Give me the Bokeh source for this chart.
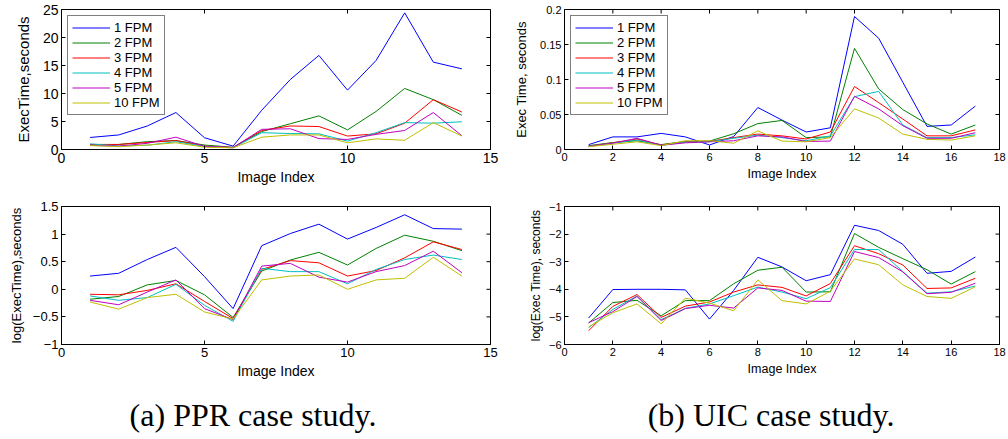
import math
from bokeh.plotting import figure
from bokeh.layouts import column, row
from bokeh.models import Range1d, FixedTicker, Div
from bokeh.embed import file_html
from bokeh.resources import INLINE

# ---------------- data ----------------
series_labels = ["1 FPM", "2 FPM", "3 FPM", "4 FPM", "5 FPM", "10 FPM"]
series_colors = ["#0000ff", "#008000", "#ff0000", "#00bfbf", "#bf00bf", "#bfbf00"]

ppr_x = list(range(1, 15))
uic_x = list(range(1, 18))

# PPR, execution time (seconds)
ppr_1 = [2.15, 2.6, 4.2, 6.6, 2.1, 0.6, 7.0, 12.5, 16.8, 10.6, 15.9, 24.4, 15.6, 14.4]
ppr_2 = [0.9, 0.9, 1.4, 1.6, 0.8, 0.4, 3.2, 4.6, 6.0, 3.5, 6.8, 10.9, 8.9, 6.1]
ppr_3 = [0.9, 0.9, 1.25, 1.6, 0.6, 0.35, 3.4, 4.2, 4.1, 2.4, 2.8, 4.7, 8.9, 6.7]
ppr_4 = [1.0, 0.65, 0.75, 1.4, 0.55, 0.3, 3.0, 2.85, 2.8, 1.5, 3.0, 4.8, 4.7, 4.95]
ppr_5 = [0.75, 0.6, 1.1, 2.2, 0.55, 0.35, 3.6, 3.7, 1.95, 1.8, 2.7, 3.4, 6.6, 2.45]
ppr_10 = [0.7, 0.5, 0.8, 1.2, 0.4, 0.3, 2.2, 2.6, 2.6, 1.2, 1.9, 1.65, 4.8, 2.4]

# PPR, log(execution time)
ppr_log_1 = [0.24, 0.29, 0.54, 0.76, 0.23, -0.35, 0.79, 1.01, 1.18, 0.91, 1.12, 1.35, 1.10, 1.09]
ppr_log_2 = [-0.18, -0.13, 0.08, 0.16, -0.10, -0.51, 0.33, 0.53, 0.67, 0.44, 0.74, 0.98, 0.87, 0.70]
ppr_log_3 = [-0.09, -0.10, -0.02, 0.10, -0.22, -0.53, 0.36, 0.52, 0.48, 0.24, 0.34, 0.57, 0.86, 0.72]
ppr_log_4 = [-0.12, -0.20, -0.15, 0.09, -0.29, -0.58, 0.38, 0.32, 0.32, 0.10, 0.36, 0.54, 0.62, 0.54]
ppr_log_5 = [-0.20, -0.28, -0.05, 0.17, -0.35, -0.55, 0.42, 0.47, 0.22, 0.13, 0.32, 0.43, 0.69, 0.30]
ppr_log_10 = [-0.23, -0.36, -0.15, -0.09, -0.41, -0.54, 0.17, 0.24, 0.26, 0.0, 0.17, 0.20, 0.58, 0.24]

# UIC, execution time (seconds)
uic_1 = [0.007, 0.018, 0.018, 0.023, 0.018, 0.0065, 0.0185, 0.060, 0.042, 0.025, 0.031, 0.190, 0.159, 0.096, 0.033, 0.035, 0.062]
uic_2 = [0.0055, 0.010, 0.0125, 0.007, 0.0115, 0.012, 0.0225, 0.037, 0.0415, 0.017, 0.018, 0.1445, 0.0865, 0.057, 0.0365, 0.022, 0.035]
uic_3 = [0.0045, 0.0095, 0.015, 0.0065, 0.011, 0.0115, 0.017, 0.022, 0.0195, 0.015, 0.025, 0.090, 0.067, 0.0435, 0.0195, 0.0195, 0.028]
uic_4 = [0.0045, 0.009, 0.0135, 0.006, 0.0105, 0.011, 0.016, 0.0205, 0.017, 0.0125, 0.0195, 0.0755, 0.083, 0.035, 0.017, 0.017, 0.021]
uic_5 = [0.0045, 0.009, 0.016, 0.006, 0.0095, 0.011, 0.0125, 0.0195, 0.018, 0.0115, 0.012, 0.076, 0.058, 0.034, 0.016, 0.016, 0.024]
uic_10 = [0.004, 0.0075, 0.011, 0.0055, 0.0125, 0.0125, 0.009, 0.0265, 0.012, 0.011, 0.017, 0.058, 0.045, 0.022, 0.0145, 0.0135, 0.0195]

# UIC, log(execution time)
uic_log_1 = [-5.04, -4.01, -4.00, -4.00, -4.02, -5.08, -4.04, -2.84, -3.19, -3.69, -3.47, -1.68, -1.87, -2.37, -3.42, -3.35, -2.83]
uic_log_2 = [-5.22, -4.48, -4.40, -4.96, -4.41, -4.41, -3.80, -3.31, -3.20, -4.10, -4.09, -1.98, -2.48, -2.89, -3.29, -3.81, -3.36]
uic_log_3 = [-5.50, -4.62, -4.19, -5.02, -4.61, -4.46, -4.10, -3.84, -3.93, -4.24, -3.79, -2.42, -2.71, -3.12, -3.97, -3.95, -3.60]
uic_log_4 = [-5.39, -4.73, -4.24, -5.10, -4.69, -4.53, -4.23, -3.92, -4.10, -4.34, -3.94, -2.56, -2.56, -3.36, -4.14, -4.09, -3.88]
uic_log_5 = [-5.21, -4.81, -4.26, -5.13, -4.70, -4.58, -4.68, -3.95, -4.04, -4.43, -4.44, -2.63, -2.85, -3.37, -4.16, -4.11, -3.78]
uic_log_10 = [-5.36, -4.85, -4.53, -5.25, -4.32, -4.50, -4.78, -3.66, -4.41, -4.53, -4.07, -2.90, -3.11, -3.84, -4.26, -4.33, -3.91]

# ticks and labels
ppr_xticks = [0, 5, 10, 15]
uic_xticks = [0, 2, 4, 6, 8, 10, 12, 14, 16, 18]
ppr_yticks = [0, 5, 10, 15, 20, 25]
ppr_log_yticks = [-1, -0.5, 0, 0.5, 1, 1.5]
ppr_log_ylabels = ["\u22121", "\u22120.5", "0", "0.5", "1", "1.5"]
uic_yticks = [0, 0.05, 0.1, 0.15, 0.2]
uic_ylabels = ["0", "0.05", "0.1", "0.15", "0.2"]
uic_log_yticks = [-6, -5, -4, -3, -2, -1]
uic_log_ylabels = ["\u22126", "\u22125", "\u22124", "\u22123", "\u22122", "\u22121"]

captions = ["(a) PPR case study.", "(b) UIC case study."]

FONT = "Liberation Sans"


def make_panel(width, height, borders, xr, yr, xticks, yticks, ylabels,
               xlabel, ylabel, xs, ys_list, legend, tick_fs, lab_fs, ylab_fs,
               ylab_standoff):
    left, right, top, bottom = borders
    p = figure(width=width, height=height, output_backend="svg",
               toolbar_location=None, x_range=Range1d(*xr), y_range=Range1d(*yr),
               min_border_left=left, min_border_right=right,
               min_border_top=top, min_border_bottom=bottom)
    p.grid.visible = False
    p.outline_line_color = "black"
    p.outline_line_width = 1
    p.background_fill_color = "white"
    p.border_fill_color = "white"

    for lbl, col, ys in zip(series_labels, series_colors, ys_list):
        if legend:
            p.line(xs, ys, line_color=col, line_width=1, legend_label=lbl)
        else:
            p.line(xs, ys, line_color=col, line_width=1)

    # mirrored inward ticks on top and right edges (box style); half clipped by frame
    p.scatter(xticks, [yr[1]] * len(xticks), marker="dash", size=8,
              angle=math.pi / 2, line_color="black", line_width=1)
    p.scatter([xr[1]] * len(yticks), yticks, marker="dash", size=8,
              line_color="black", line_width=1)

    xa = p.xaxis[0]
    ya = p.yaxis[0]
    xa.ticker = FixedTicker(ticks=xticks)
    ya.ticker = FixedTicker(ticks=yticks)
    if ylabels is not None:
        ya.major_label_overrides = {t: s for t, s in zip(yticks, ylabels)}
    for ax in (xa, ya):
        ax.major_tick_in = 4
        ax.major_tick_out = 0
        ax.minor_tick_line_color = None
        ax.axis_line_color = "black"
        ax.major_tick_line_color = "black"
        ax.major_label_text_font = FONT
        ax.major_label_text_font_size = tick_fs
        ax.major_label_text_color = "black"
        ax.axis_label_text_font = FONT
        ax.axis_label_text_font_style = "normal"
        ax.axis_label_text_color = "black"
        ax.major_label_standoff = 3
    xa.axis_label = xlabel
    xa.axis_label_text_font_size = lab_fs
    xa.axis_label_standoff = 3
    ya.axis_label = ylabel
    ya.axis_label_text_font_size = ylab_fs
    ya.axis_label_standoff = ylab_standoff

    if legend:
        lg = p.legend[0]
        lg.location = "top_left"
        lg.margin = 6
        lg.padding = 4
        lg.spacing = 0
        lg.glyph_width = 38
        lg.glyph_height = 15
        lg.label_height = 15
        lg.label_standoff = 4
        lg.label_text_font = FONT
        lg.label_text_font_size = "13px"
        lg.label_text_color = "black"
        lg.border_line_color = "black"
        lg.border_line_width = 1
        lg.background_fill_color = "white"
        lg.background_fill_alpha = 1.0
    return p


p1 = make_panel(500, 190, (61, 10, 9, 41), (0, 15), (0, 25), ppr_xticks, ppr_yticks, None,
                "Image Index", "ExecTime,seconds", ppr_x,
                [ppr_1, ppr_2, ppr_3, ppr_4, ppr_5, ppr_10], True,
                "14px", "14px", "15px", 8)
p2 = make_panel(508, 190, (64, 9, 5, 41), (0, 18), (0, 0.2), uic_xticks, uic_yticks, uic_ylabels,
                "Image Index", "Exec Time, seconds", uic_x,
                [uic_1, uic_2, uic_3, uic_4, uic_5, uic_10], True,
                "11px", "12.5px", "13px", 8)
p3 = make_panel(500, 200, (61, 10, 16, 46), (0, 15), (-1, 1.5), ppr_xticks, ppr_log_yticks, ppr_log_ylabels,
                "Image Index", "log(ExecTime),seconds", ppr_x,
                [ppr_log_1, ppr_log_2, ppr_log_3, ppr_log_4, ppr_log_5, ppr_log_10], False,
                "13px", "14px", "13px", 6)
p4 = make_panel(508, 200, (64, 9, 14, 42), (0, 18), (-6, -1), uic_xticks, uic_log_yticks, uic_log_ylabels,
                "Image Index", "log(Exec Time), seconds", uic_x,
                [uic_log_1, uic_log_2, uic_log_3, uic_log_4, uic_log_5, uic_log_10], False,
                "11px", "12.5px", "12px", 3)

cap_html = (
    '<div style="position:relative;width:1008px;height:49px;'
    "font-family:'Liberation Serif','Times New Roman',serif;font-size:32px;"
    'line-height:32px;color:black;">'
    '<div style="position:absolute;left:53px;width:400px;top:9px;text-align:center;">'
    + captions[0] + '</div>'
    '<div style="position:absolute;left:571px;width:400px;top:9px;text-align:center;">'
    + captions[1] + '</div></div>'
)
cap = Div(text=cap_html, width=1008, height=49, margin=(0, 0, 0, 0))

layout = column(row(p1, p2), row(p3, p4), cap)

with open("out.html", "w") as f:
    f.write(file_html(layout, INLINE))
